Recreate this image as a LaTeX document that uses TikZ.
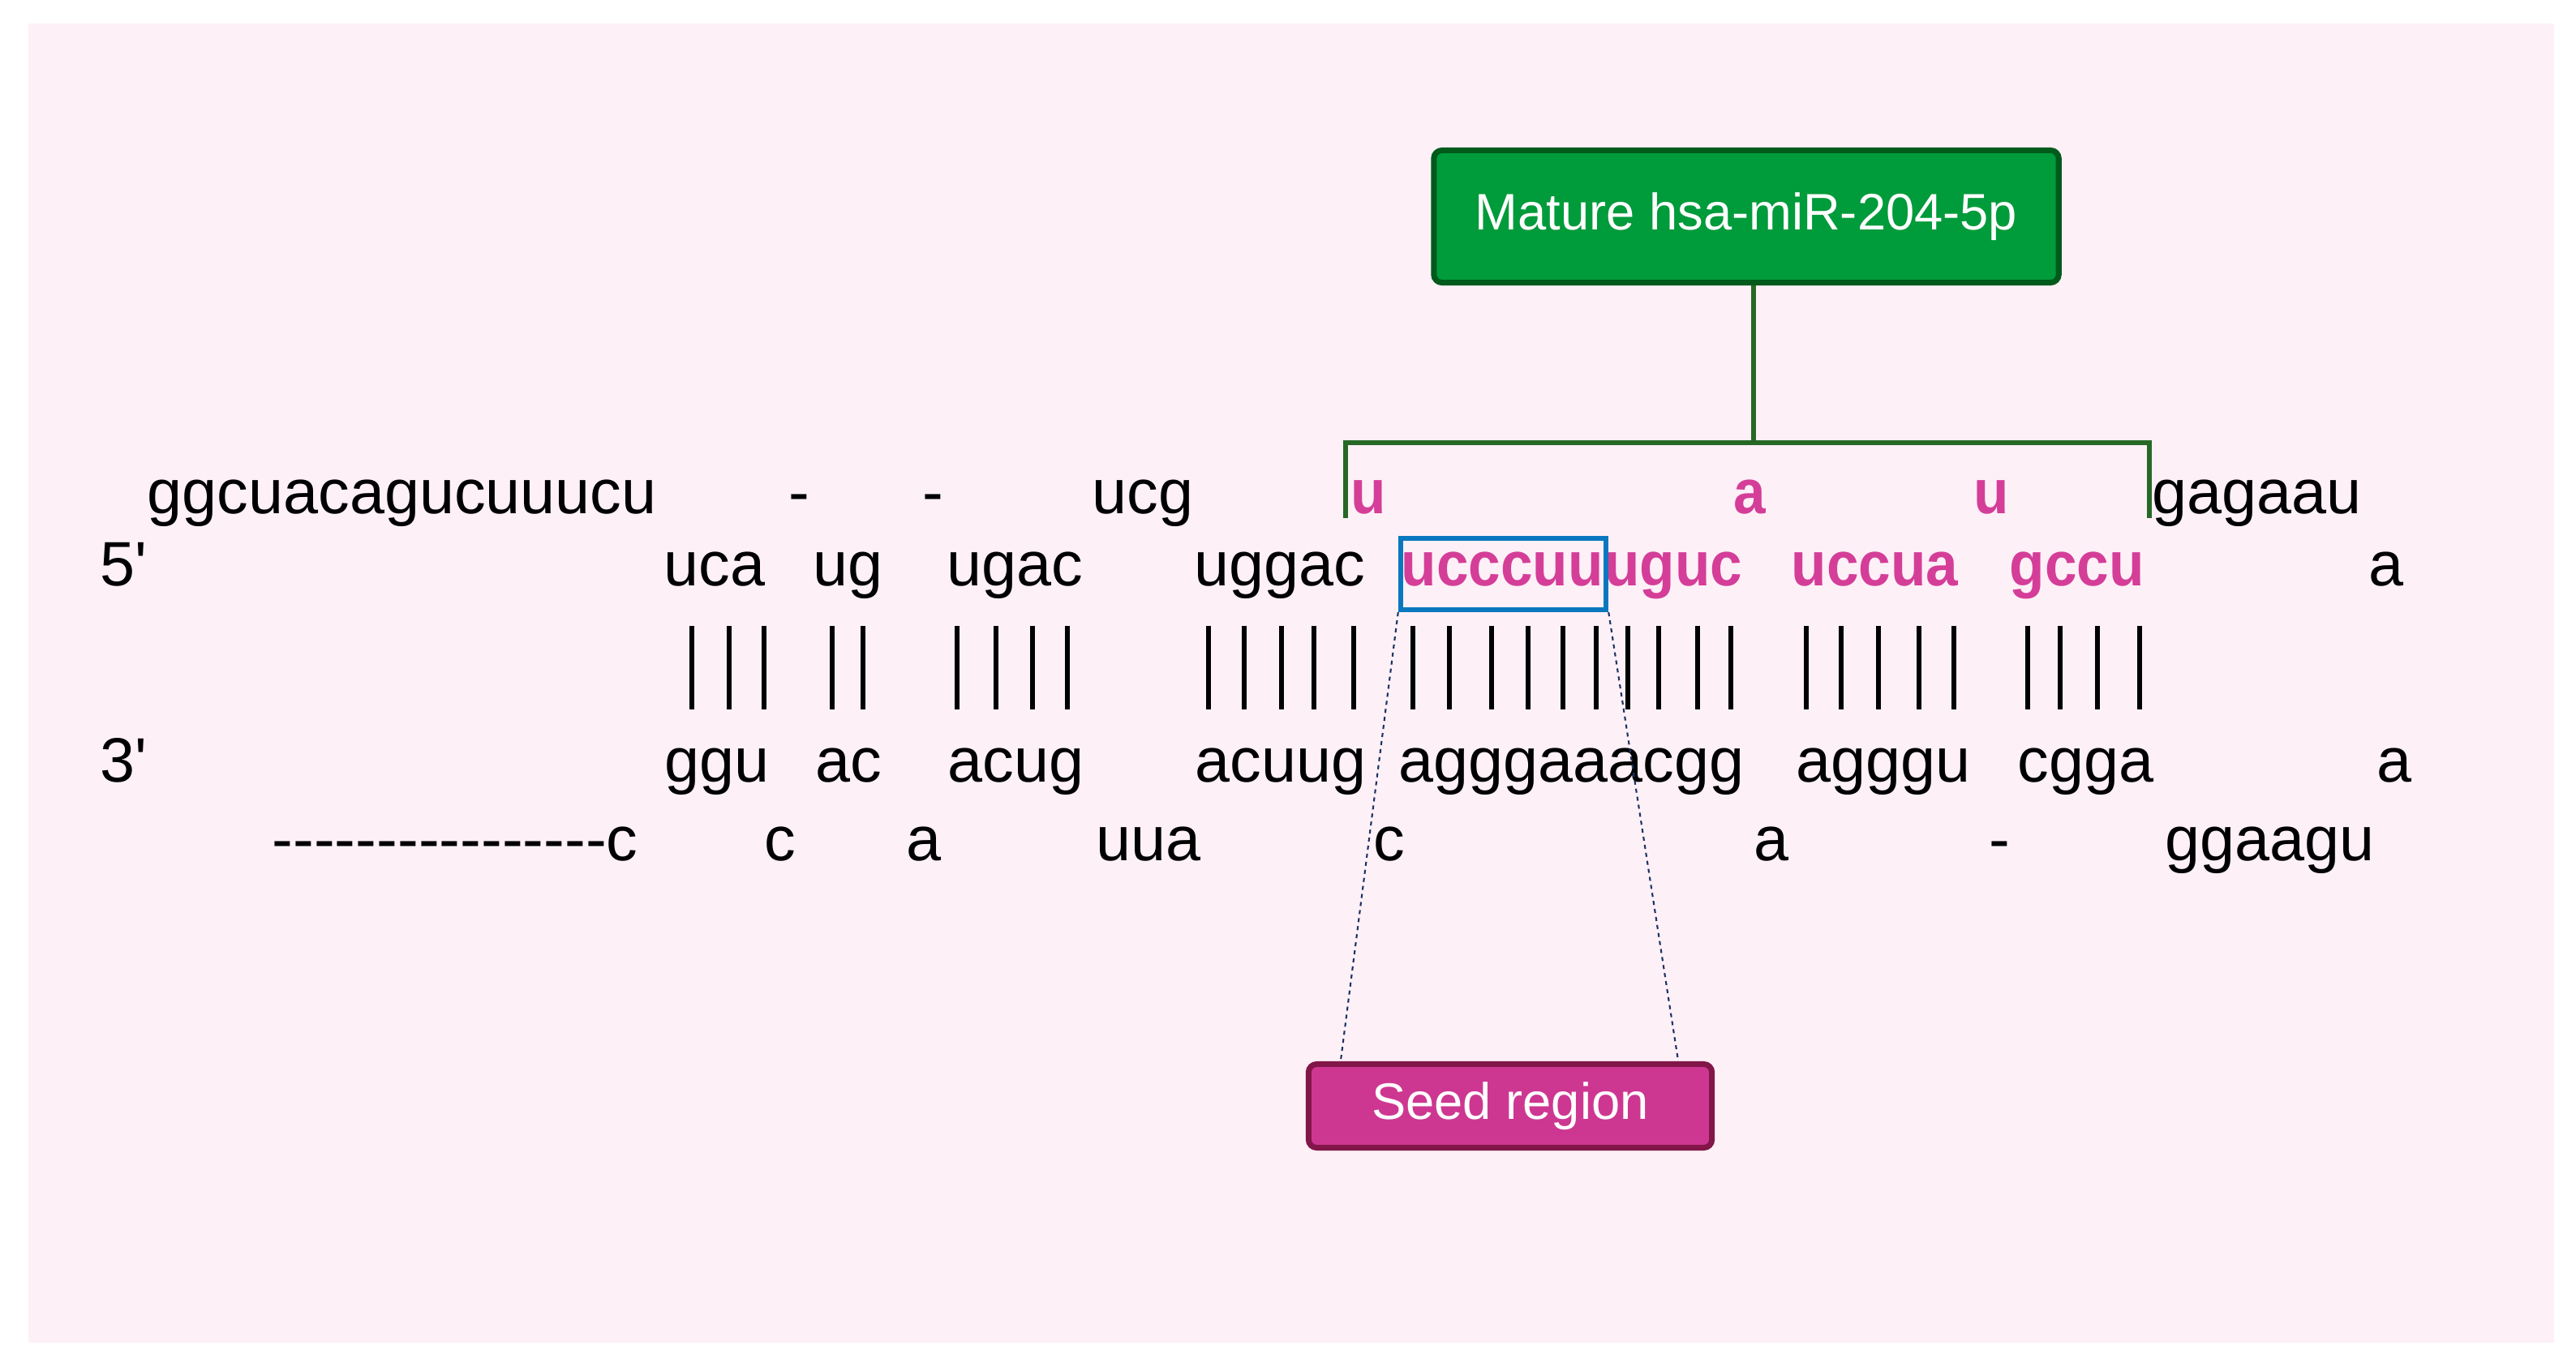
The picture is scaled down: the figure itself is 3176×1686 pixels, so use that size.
\documentclass[tikz,border=0pt]{standalone}
\usepackage{fontspec}
\newfontfamily\seqfont{Liberation Sans}
\newfontfamily\mirfont{Liberation Sans}[FakeStretch=0.92]
\definecolor{bgpink}{RGB}{253,240,247}
\definecolor{mirpink}{RGB}{212,62,152}
\definecolor{matgreen}{RGB}{0,155,58}
\definecolor{matborder}{RGB}{0,90,28}
\definecolor{brgreen}{RGB}{38,105,38}
\definecolor{seedblue}{RGB}{10,120,190}
\definecolor{seedfill}{RGB}{205,55,145}
\definecolor{seedborder}{RGB}{130,22,72}
\definecolor{dashnavy}{RGB}{30,50,100}

\begin{document}
\begin{tikzpicture}[x=0.01cm, y=-0.01cm,
  seq/.style={anchor=base west, inner sep=0pt, font=\seqfont\fontsize{22}{26}\selectfont},
  mir/.style={seq, font=\mirfont\bfseries\fontsize{22}{26}\selectfont, text=mirpink},
  tag/.style={draw, rounded corners=0.1cm, line width=2pt, text=white, inner sep=0pt, font=\seqfont\fontsize{18}{22}\selectfont}]
\fill[white] (0,0) rectangle (3176,1686);
\fill[bgpink] (35,29) rectangle (3149,1656);
\useasboundingbox (0,0) rectangle (3176,1686);
% mature miRNA label and bracket
\node[tag, fill=matgreen, draw=matborder, minimum width=7.70cm, minimum height=1.63cm] (mat) at (2153,267) {Mature hsa-miR-204-5p};
\coordinate (brl) at (1659,639);
\coordinate (brr) at (2650,639);
\coordinate (brt) at (2162,546);
\draw[brgreen, line width=1.8pt] (brl) -- (brl |- brt) -- (brr |- brt) -- (brr);
\draw[brgreen, line width=1.8pt] (mat.south -| brt) -- (brt);
% top loop row
\node[seq] (t1) at (181,634) {ggcuacagucuuucu};
\node[seq] (t2) at (972,634) {-};
\node[seq] (t3) at (1137,634) {-};
\node[seq] (t4) at (1346,634) {ucg};
\node[mir] (t5) at (1665,634) {u};
\node[mir] (t6) at (2137,634) {a};
\node[mir] (t7) at (2433,634) {u};
\node[seq] (t8) at (2653,634) {gagaau};
% 5' strand
\node[seq] (f0) at (123,723) {5'};
\node[seq] (f1) at (818,723) {uca};
\node[seq] (f2) at (1002,723) {ug};
\node[seq] (f3) at (1167,723) {ugac};
\node[seq] (f4) at (1472,723) {uggac};
\node[mir] (f5) at (1727,723) {ucccuu};
\node[mir] (f6) at (f5.base east) {uguc};
\node[mir] (f7) at (2208,723) {uccua};
\node[mir] (f8) at (2477,723) {gccu};
\node[seq] (f9) at (2920,723) {a};
% base pairs
\foreach \bx in {853,899,942, 1026,1064, 1180,1228,1273,1316, 1490,1534,1580,1620,1669,
  1742,1787,1839,1884,1927,1968,2007,2045,2093,2134, 2227,2270,2316,2366,2409, 2500,2540,2586,2638}
  \draw[line width=1.5pt] (\bx,772) -- (\bx,875);
% 3' strand
\node[seq] (b0) at (123,965) {3'};
\node[seq] (b1) at (819,965) {ggu};
\node[seq] (b2) at (1005,965) {ac};
\node[seq] (b3) at (1168,965) {acug};
\node[seq] (b4) at (1473,965) {acuug};
\node[seq] (b5) at (1724,965) {agggaaacgg};
\node[seq] (b6) at (2214,965) {agggu};
\node[seq] (b7) at (2487,965) {cgga};
\node[seq] (b8) at (2930,965) {a};
% bottom loop row
\node[seq] (l1) at (335,1062) {----------------c};
\node[seq] (l2) at (942,1062) {c};
\node[seq] (l3) at (1117,1062) {a};
\node[seq] (l4) at (1351,1062) {uua};
\node[seq] (l5) at (1693,1062) {c};
\node[seq] (l6) at (2162,1062) {a};
\node[seq] (l7) at (2452,1062) {-};
\node[seq] (l8) at (2669,1062) {ggaagu};
% seed region
\node[draw=seedblue, line width=1.8pt, minimum width=2.53cm, minimum height=0.88cm, inner sep=0pt] (seed) at (1853.5,708) {};
\node[tag, fill=seedfill, draw=seedborder, minimum width=4.97cm, minimum height=1.03cm] (reg) at (1862,1364) {Seed region};
\draw[dashnavy, line width=0.6pt, dash pattern=on 0.05cm off 0.05cm] (seed.south west) -- ([xshift=0.43cm]reg.north west);
\draw[dashnavy, line width=0.6pt, dash pattern=on 0.05cm off 0.05cm] (seed.south east) -- ([xshift=-0.45cm]reg.north east);
\end{tikzpicture}
\end{document}
